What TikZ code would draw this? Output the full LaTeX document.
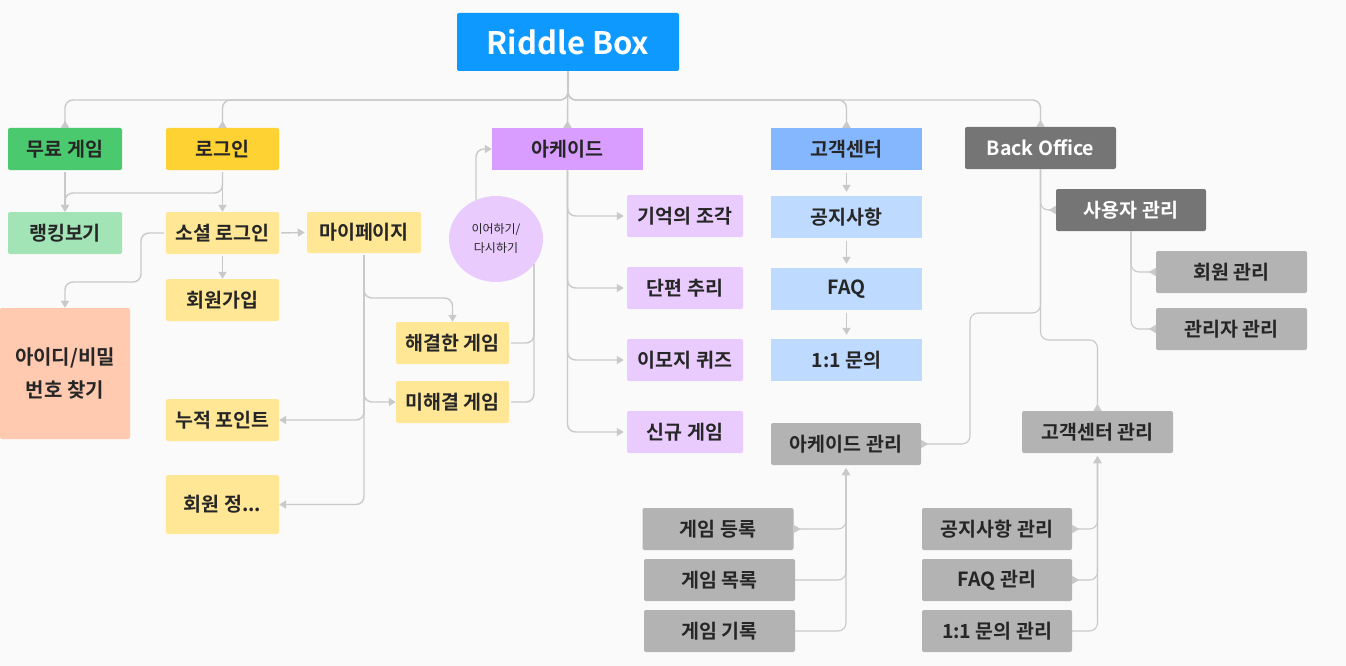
\documentclass[tikz,border=0pt]{standalone}
\usepackage{fontspec}
\setmainfont{Noto Sans CJK KR}[BoldFont={Noto Sans CJK KR Bold}]
\usetikzlibrary{arrows.meta,shapes.geometric}
\definecolor{bg}{HTML}{FAFAFA}
\definecolor{txt}{HTML}{262626}
\definecolor{lc}{HTML}{C9C9C9}
\definecolor{cRoot}{HTML}{0D99FF}
\definecolor{cGreen}{HTML}{4BC96E}
\definecolor{cGreenL}{HTML}{A3E4B6}
\definecolor{cYellow}{HTML}{FFD233}
\definecolor{cYellowL}{HTML}{FFE795}
\definecolor{cSalmon}{HTML}{FFCAB0}
\definecolor{cPurple}{HTML}{D99DFF}
\definecolor{cPurpleL}{HTML}{E9CCFD}
\definecolor{cBlue}{HTML}{85B7FF}
\definecolor{cBlueL}{HTML}{BFDAFF}
\definecolor{cDark}{HTML}{757575}
\definecolor{cGray}{HTML}{B3B3B3}
\begin{document}
\begin{tikzpicture}[x=1pt,y=-1pt,
  box/.style={rectangle, rounded corners=2pt, inner sep=0pt, text=txt,
    font=\bfseries\fontsize{19.5}{23}\selectfont, align=center},
  sq/.style={rounded corners=0pt},
  wh/.style 2 args={minimum width=#1pt, minimum height=#2pt},
  conn/.style={draw=lc, line width=1.4pt, rounded corners=8pt},
  thin/.style={line width=1.1pt},
  tip/.style={-{Triangle[width=8pt,length=7pt]}},
  rtip/.style={-{Triangle[reversed,width=8pt,length=7pt]}},
  srtip/.style={{Triangle[reversed,width=8pt,length=7pt]}-{Triangle[width=8pt,length=7pt]}},
]
\fill[bg] (0,0) rectangle (1346,666);
\useasboundingbox (0,0) rectangle (1346,666);

% nodes
\node[box, fill=cRoot, text=white, wh={222}{58}, font=\bfseries\fontsize{31}{36}\selectfont] (root) at (568,42) {Riddle Box};
\node[box, fill=cGreen, wh={114}{42}] (free) at (65,149) {무료 게임};
\node[box, fill=cYellow, wh={113}{42}] (login) at (222.5,149) {로그인};
\node[box, fill=cGreenL, wh={114}{42}] (rank) at (65,233) {랭킹보기};
\node[box, fill=cYellowL, wh={113}{42}] (social) at (222.5,233) {소셜 로그인};
\node[box, fill=cYellowL, wh={114}{41}] (mypage) at (364,232.5) {마이페이지};
\node[box, fill=cYellowL, wh={113}{42}] (join) at (222.5,300) {회원가입};
\node[box, fill=cSalmon, wh={130}{131}, font=\bfseries\fontsize{20}{33}\selectfont] (findid) at (65,373.5) {아이디/비밀\\번호 찾기};
\node[box, fill=cYellowL, wh={113}{42}] (points) at (222.5,420) {누적 포인트};
\node[box, fill=cYellowL, wh={113}{59}] (minfo) at (222.5,504.5) {회원 정...};
\node[box, fill=cYellowL, wh={113}{42}] (solved) at (452.5,343) {해결한 게임};
\node[box, fill=cYellowL, wh={113}{42}] (unsolved) at (452.5,402) {미해결 게임};
\node[ellipse, fill=cPurpleL, inner sep=0pt, minimum width=94pt, minimum height=86pt, text=txt,
  font=\fontsize{12}{19}\selectfont, align=center] (circle) at (496,239) {이어하기/\\다시하기};
\node[box, sq, fill=cPurple, wh={151}{42}] (arcade) at (567.5,149) {아케이드};
\node[box, fill=cPurpleL, wh={116}{42}] (mem) at (685,216) {기억의 조각};
\node[box, fill=cPurpleL, wh={116}{42}] (short) at (685,288) {단편 추리};
\node[box, fill=cPurpleL, wh={116}{42}] (emoji) at (685,360) {이모지 퀴즈};
\node[box, fill=cPurpleL, wh={116}{42}] (newg) at (685,432) {신규 게임};
\node[box, sq, fill=cBlue, wh={151}{42}] (cs) at (846.5,149) {고객센터};
\node[box, sq, fill=cBlueL, wh={151}{42}] (notice) at (846.5,217) {공지사항};
\node[box, sq, fill=cBlueL, wh={151}{42}] (faq) at (846.5,289) {FAQ};
\node[box, sq, fill=cBlueL, wh={151}{42}] (qna) at (846.5,360) {1:1 문의};
\node[box, fill=cDark, text=white, wh={151}{42}] (bo) at (1040.5,148) {Back Office};
\node[box, fill=cDark, text=white, wh={150}{42}] (user) at (1131,210) {사용자 관리};
\node[box, fill=cGray, wh={151}{42}] (member) at (1231.5,272) {회원 관리};
\node[box, fill=cGray, wh={151}{42}] (admin) at (1231.5,329) {관리자 관리};
\node[box, fill=cGray, wh={150}{42}] (arcm) at (846,444) {아케이드 관리};
\node[box, fill=cGray, wh={151}{42}] (csm) at (1097.5,432) {고객센터 관리};
\node[box, fill=cGray, wh={151}{42}] (greg) at (718,529) {게임 등록};
\node[box, fill=cGray, wh={151}{42}] (glist) at (719.5,580) {게임 목록};
\node[box, fill=cGray, wh={151}{42}] (grec) at (719.5,631) {게임 기록};
\node[box, fill=cGray, wh={150}{42}] (nm) at (997,529) {공지사항 관리};
\node[box, fill=cGray, wh={150}{42}] (fm) at (997,580) {FAQ 관리};
\node[box, fill=cGray, wh={150}{42}] (qm) at (997,631) {1:1 문의 관리};

\path (circle.center) ++(38,25) coordinate (cjoin);
\path (circle.center) ++(-20,-39) coordinate (ctop);

% top level
\draw[conn, rtip] (root.south) -- (568,100) -| (free.north);
\draw[conn, rtip] (root.south) -- (568,100) -| (login.north);
\draw[conn, rtip] (root.south) -- (arcade.north);
\draw[conn, rtip] (root.south) -- (568,100) -| (cs.north);
\draw[conn, rtip] (root.south) -- (568,100) -| (bo.north);

% left
\draw[conn, tip, shorten <=2pt] (free.south) -- (rank.north);
\draw[conn, tip, shorten <=2pt] (login.south) -- (social.north);
\draw[conn, tip, shorten <=2pt] (login.south) -- (222.5,193) -| (rank.north);
\draw[conn, tip, shorten <=2pt] (social.south) -- (join.north);
\draw[conn, tip, shorten <=2pt, shorten >=2pt] (social.east) -- (mypage.west);
\draw[conn, tip, shorten <=2pt] (social.west) -| (141,282) -| (findid.north);
\draw[conn, tip, shorten <=2pt] (mypage.south) |- (400,298) -| (solved.north);
\draw[conn, tip, shorten <=2pt] (mypage.south) |- (unsolved.west);
\draw[conn, tip, shorten <=2pt] (mypage.south) |- (points.east);
\draw[conn, tip, shorten <=2pt] (mypage.south) |- (minfo.east);
\draw[conn, shorten <=2pt] (solved.east) -| (cjoin);
\draw[conn, shorten <=2pt] (unsolved.east) -| (cjoin);
\draw[conn, tip] (ctop) |- (arcade.west);

% arcade
\draw[conn, tip, shorten >=3pt] (arcade.south) |- (mem.west);
\draw[conn, tip, shorten >=3pt] (arcade.south) |- (short.west);
\draw[conn, tip, shorten >=3pt] (arcade.south) |- (emoji.west);
\draw[conn, tip, shorten >=3pt] (arcade.south) |- (newg.west);

% customer center
\draw[conn, thin, tip, shorten <=3pt, shorten >=4pt] (cs.south) -- (notice.north);
\draw[conn, thin, tip, shorten <=3pt, shorten >=4pt] (notice.south) -- (faq.north);
\draw[conn, thin, tip, shorten <=3pt, shorten >=4pt] (faq.south) -- (qna.north);

% back office
\draw[conn, thin, rtip] (bo.south) |- (user.west);
\draw[conn, thin, rtip] (bo.south) -- (1040.5,340) -| (csm.north);
\draw[conn, thin, rtip] (bo.south) |- (970,313) |- (arcm.east);
\draw[conn, thin, rtip] (user.south) |- (member.west);
\draw[conn, thin, rtip] (user.south) |- (admin.west);

% bottom
\draw[conn, thin, srtip, shorten >=3pt] (greg.east) -| (arcm.south);
\draw[conn, thin, tip, shorten >=3pt] (glist.east) -| (arcm.south);
\draw[conn, thin, tip, shorten >=3pt] (grec.east) -| (arcm.south);
\draw[conn, thin, srtip, shorten >=3pt] (nm.east) -| (csm.south);
\draw[conn, thin, srtip, shorten >=3pt] (fm.east) -| (csm.south);
\draw[conn, thin, tip, shorten >=3pt] (qm.east) -| (csm.south);
\end{tikzpicture}
\end{document}
